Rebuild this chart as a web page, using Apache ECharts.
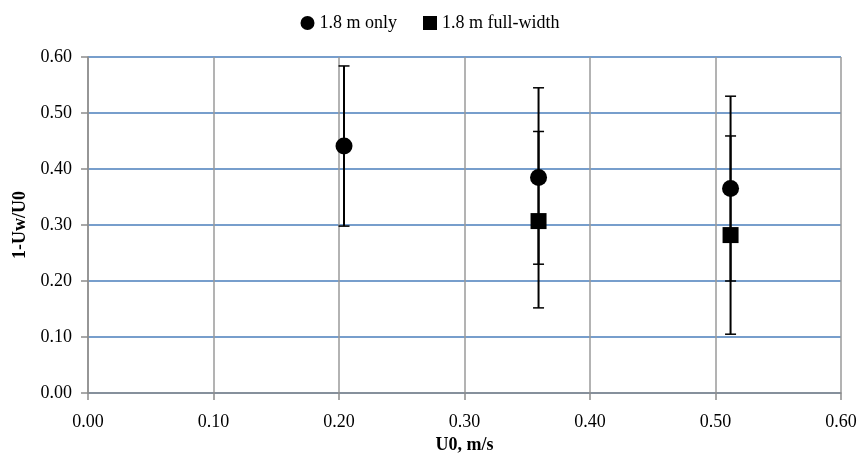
<!DOCTYPE html>
<html>
<head>
<meta charset="utf-8">
<script src="https://cdn.jsdelivr.net/npm/echarts@6/dist/echarts.min.js"></script>
<style>
  html, body { margin: 0; padding: 0; background: #fff; }
  #chart { width: 860px; height: 459px; }
</style>
</head>
<body>
<div id="chart"></div>
<script>
// Wake deficit against free-stream speed, with error ranges
const seriesNames = ['1.8 m only', '1.8 m full-width'];

const onlySpeed = [0.204, 0.359, 0.512];
const onlyDeficit = [0.441, 0.385, 0.365];
const onlyLow = [0.298, 0.230, 0.200];
const onlyHigh = [0.584, 0.545, 0.530];

const fullSpeed = [0.359, 0.512];
const fullDeficit = [0.307, 0.282];
const fullLow = [0.152, 0.105];
const fullHigh = [0.467, 0.459];

const xTicks = [0.00, 0.10, 0.20, 0.30, 0.40, 0.50, 0.60];
const yTicks = [0.00, 0.10, 0.20, 0.30, 0.40, 0.50, 0.60];

const FONT = '"Liberation Serif", "Times New Roman", serif';

const pairs = (xs, ys) => xs.map((x, i) => [x, ys[i]]);
const ranges = (xs, lo, hi) => xs.map((x, i) => [x, lo[i], hi[i]]);

function errorBar(params, api) {
  const x = api.value(0);
  const top = api.coord([x, api.value(2)]);
  const bot = api.coord([x, api.value(1)]);
  const half = 5.5;
  const stroke = { stroke: '#000', lineWidth: 2 };
  const cap = { stroke: '#000', lineWidth: 1.5 };
  return {
    type: 'group',
    children: [
      { type: 'line', shape: { x1: top[0], y1: top[1], x2: bot[0], y2: bot[1] }, style: stroke },
      { type: 'line', shape: { x1: top[0] - half, y1: top[1], x2: top[0] + half, y2: top[1] }, style: cap },
      { type: 'line', shape: { x1: bot[0] - half, y1: bot[1], x2: bot[0] + half, y2: bot[1] }, style: cap }
    ]
  };
}

const chart = echarts.init(document.getElementById('chart'), null, { renderer: 'canvas' });

chart.setOption({
  animation: false,
  backgroundColor: '#ffffff',
  textStyle: { fontFamily: FONT },
  legend: {
    top: 9,
    left: 'center',
    itemWidth: 14,
    itemHeight: 14,
    itemGap: 26,
    textStyle: { fontFamily: FONT, fontSize: 18, color: '#000' },
    data: [
      { name: seriesNames[0], icon: 'circle', itemStyle: { color: '#000', opacity: 1 } },
      { name: seriesNames[1], icon: 'rect', itemStyle: { color: '#000', opacity: 1 } }
    ]
  },
  grid: { left: 88, right: 19, top: 57, bottom: 66, containLabel: false, outerBoundsMode: 'none' },
  xAxis: {
    type: 'value',
    min: xTicks[0],
    max: xTicks[xTicks.length - 1],
    interval: 0.1,
    name: 'U0, m/s',
    nameLocation: 'middle',
    nameGap: 43,
    nameTextStyle: { fontFamily: FONT, fontSize: 18, fontWeight: 'bold', color: '#000' },
    axisLine: { lineStyle: { color: '#8c8c8c', width: 1.5 } },
    axisTick: { show: true, length: 7, inside: false, lineStyle: { color: '#8c8c8c', width: 1.5 } },
    axisLabel: {
      margin: 20,
      fontFamily: FONT, fontSize: 18, color: '#000',
      formatter: v => v.toFixed(2)
    },
    splitLine: { show: true, lineStyle: { color: '#9a9a9a', width: 1.5 } }
  },
  yAxis: {
    type: 'value',
    min: yTicks[0],
    max: yTicks[yTicks.length - 1],
    interval: 0.1,
    name: '1-Uw/U0',
    nameLocation: 'middle',
    nameGap: 55,
    nameTextStyle: { fontFamily: FONT, fontSize: 18, fontWeight: 'bold', color: '#000' },
    axisLine: { show: true, lineStyle: { color: '#8c8c8c', width: 1.5 } },
    axisTick: { show: true, length: 7, inside: false, lineStyle: { color: '#8c8c8c', width: 1.5 } },
    axisLabel: {
      margin: 16,
      fontFamily: FONT, fontSize: 18, color: '#000',
      formatter: v => v.toFixed(2)
    },
    splitLine: { show: true, lineStyle: { color: '#4a7ebb', width: 1.5 } }
  },
  series: [
    {
      type: 'custom',
      name: 'only-range',
      renderItem: errorBar,
      encode: { x: 0, y: [1, 2] },
      data: ranges(onlySpeed, onlyLow, onlyHigh),
      z: 2
    },
    {
      type: 'custom',
      name: 'full-range',
      renderItem: errorBar,
      encode: { x: 0, y: [1, 2] },
      data: ranges(fullSpeed, fullLow, fullHigh),
      z: 2
    },
    {
      type: 'scatter',
      name: seriesNames[0],
      symbol: 'circle',
      symbolSize: 17,
      itemStyle: { color: '#000', opacity: 1 },
      data: pairs(onlySpeed, onlyDeficit),
      z: 3
    },
    {
      type: 'scatter',
      name: seriesNames[1],
      symbol: 'rect',
      symbolSize: 16,
      itemStyle: { color: '#000', opacity: 1 },
      data: pairs(fullSpeed, fullDeficit),
      z: 4
    }
  ]
});
</script>
</body>
</html>
